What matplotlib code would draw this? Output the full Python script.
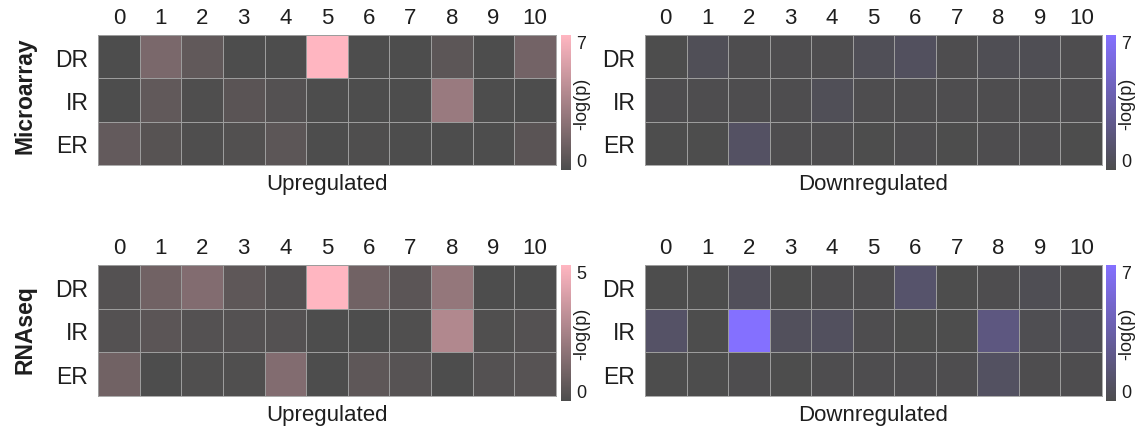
import matplotlib
matplotlib.use("Agg")
import matplotlib.pyplot as plt
import numpy as np
from matplotlib.colors import LinearSegmentedColormap

plt.rcParams["font.family"] = ["Liberation Sans", "DejaVu Sans"]

clusters = [str(i) for i in range(11)]
rows = ["DR", "IR", "ER"]

# -log(p) values
micro_up = [
    [0.0, 1.8, 0.8, 0.0, 0.0, 7.0, 0.0, 0.0, 0.6, 0.0, 1.5],
    [0.0, 0.8, 0.1, 0.5, 0.3, 0.0, 0.0, 0.0, 3.0, 0.0, 0.0],
    [0.9, 0.4, 0.1, 0.2, 0.6, 0.0, 0.1, 0.0, 0.0, 0.0, 0.5],
]
micro_down = [
    [0.0, 0.4, 0.1, 0.1, 0.1, 0.4, 0.7, 0.1, 0.3, 0.3, 0.1],
    [0.1, 0.1, 0.1, 0.1, 0.4, 0.1, 0.1, 0.1, 0.1, 0.1, 0.1],
    [0.0, 0.0, 0.9, 0.1, 0.1, 0.0, 0.1, 0.0, 0.1, 0.1, 0.0],
]
rnaseq_up = [
    [0.2, 1.0, 1.5, 0.5, 0.2, 5.0, 1.0, 0.4, 2.0, 0.0, 0.0],
    [0.2, 0.4, 0.2, 0.2, 0.2, 0.0, 0.0, 0.1, 2.8, 0.1, 0.2],
    [1.0, 0.0, 0.1, 0.1, 1.5, 0.0, 0.5, 0.3, 0.0, 0.2, 0.3],
]
rnaseq_down = [
    [0.0, 0.0, 0.5, 0.0, 0.1, 0.1, 1.2, 0.0, 0.1, 0.3, 0.1],
    [1.0, 0.0, 7.0, 0.6, 0.7, 0.1, 0.0, 0.0, 2.0, 0.2, 0.3],
    [0.0, 0.0, 0.1, 0.0, 0.1, 0.1, 0.1, 0.1, 0.8, 0.1, 0.1],
]
micro_up_max, micro_down_max = 7, 7
rnaseq_up_max, rnaseq_down_max = 5, 7

base = "#4d4d4d"
pink_cmap = LinearSegmentedColormap.from_list("up", [base, "#ffb6c1"])
blue_cmap = LinearSegmentedColormap.from_list("down", [base, "#8470ff"])
txt = "#1e1e1e"


def draw_heatmap(fig, rect, cbar_rect, values, vmax, cmap, xlabel):
    ax = fig.add_axes(rect)
    data = np.array(values)
    mesh = ax.pcolormesh(data, cmap=cmap, vmin=0, vmax=vmax,
                         edgecolors="#9c9c9c", linewidth=0.6)
    ax.set_xlim(0, data.shape[1])
    ax.set_ylim(data.shape[0], 0)
    ax.set_xticks(np.arange(data.shape[1]) + 0.5)
    ax.set_xticklabels(clusters, fontsize=16, color=txt)
    ax.set_yticks(np.arange(data.shape[0]) + 0.5)
    ax.set_yticklabels(rows, fontsize=16.5, color=txt)
    ax.xaxis.tick_top()
    ax.tick_params(axis="x", length=0, pad=5)
    ax.tick_params(axis="y", length=0, pad=7)
    ax.set_xlabel(xlabel, fontsize=16, color=txt, labelpad=6)
    for s in ax.spines.values():
        s.set_color("#9c9c9c")
        s.set_linewidth(0.6)

    cax = fig.add_axes(cbar_rect)
    cb = fig.colorbar(mesh, cax=cax)
    cb.outline.set_visible(False)
    cb.set_ticks([0, vmax])
    cb.ax.tick_params(length=0, labelsize=13, pad=4, colors=txt)
    labs = cb.ax.get_yticklabels()
    labs[0].set_va("bottom")
    labs[1].set_va("top")
    cb.set_label("-log(p)", fontsize=13, color=txt, labelpad=-10)
    return ax


fig = plt.figure(figsize=(11.38, 4.31), dpi=100)

W, H = 1138, 431


def rect(x0, y0, x1, y1):
    return [x0 / W, (H - y1) / H, (x1 - x0) / W, (y1 - y0) / H]


draw_heatmap(fig, rect(98, 36, 556, 166), rect(561, 36, 571, 171),
             micro_up, micro_up_max, pink_cmap, "Upregulated")
draw_heatmap(fig, rect(645, 36, 1102, 166), rect(1106, 36, 1116, 171),
             micro_down, micro_down_max, blue_cmap, "Downregulated")
draw_heatmap(fig, rect(98, 266, 556, 397), rect(561, 266, 571, 402),
             rnaseq_up, rnaseq_up_max, pink_cmap, "Upregulated")
draw_heatmap(fig, rect(645, 266, 1102, 397), rect(1106, 266, 1116, 402),
             rnaseq_down, rnaseq_down_max, blue_cmap, "Downregulated")

fig.text(25 / W, 1 - 96 / H, "Microarray", rotation=90, fontsize=16.5,
         fontweight="bold", ha="center", va="center", color=txt)
fig.text(25 / W, 1 - 330 / H, "RNAseq", rotation=90, fontsize=16.5,
         fontweight="bold", ha="center", va="center", color=txt)

fig.savefig("out.png", dpi=100, facecolor="white")
